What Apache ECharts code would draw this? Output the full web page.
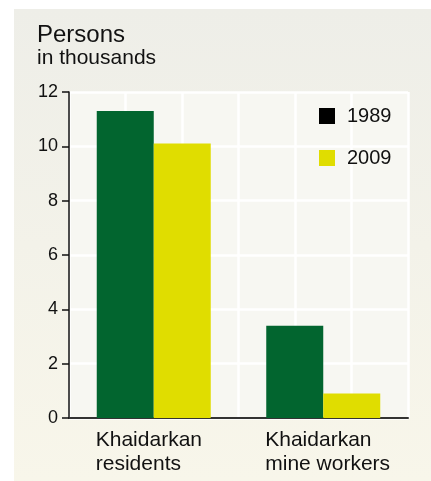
<!DOCTYPE html>
<html>
<head>
<meta charset="utf-8">
<script src="https://cdn.jsdelivr.net/npm/echarts@6/dist/echarts.min.js"></script>
<style>
  html, body { margin: 0; padding: 0; background: #fff; }
  #chart { width: 431px; height: 481px; }
</style>
</head>
<body>
<div id="chart"></div>
<script>
var categories = ['Khaidarkan\nresidents', 'Khaidarkan\nmine workers'];
var years = ['1989', '2009'];
var values1989 = [11.3, 3.4];
var values2009 = [10.1, 0.9];
var yTicks = [0, 2, 4, 6, 8, 10, 12];

var font = 'Liberation Sans, Arial, sans-serif';

var chart = echarts.init(document.getElementById('chart'));
var option = {
  animation: false,
  textStyle: {fontFamily: font},
  graphic: [{
    type: 'rect',
    z: -10,
    silent: true,
    shape: {x: 14, y: 9, width: 417, height: 472},
    style: {
      fill: {
        type: 'linear', x: 0, y: 0, x2: 0, y2: 1,
        colorStops: [{offset: 0, color: '#eeeee8'}, {offset: 1, color: '#f8f6ea'}]
      }
    }
  }],
  title: [
    {text: 'Persons', left: 32, top: 18, textStyle: {fontSize: 24, fontWeight: 'normal', color: '#111', fontFamily: font, lineHeight: 24}},
    {text: 'in thousands', left: 32, top: 43, textStyle: {fontSize: 21, fontWeight: 'normal', color: '#111', fontFamily: font, lineHeight: 21}}
  ],
  legend: {
    orient: 'vertical',
    left: 314,
    top: 101,
    itemWidth: 16,
    itemHeight: 16,
    itemGap: 22,
    icon: 'rect',
    textStyle: {fontSize: 20, color: '#111', fontFamily: font, lineHeight: 16, padding: [0, 0, 0, 7]},
    data: [{name: years[0], itemStyle: {color: '#000'}}, {name: years[1]}]
  },
  grid: {
    left: 69, right: 23, top: 92, bottom: 63,
    show: true, borderWidth: 0,
    backgroundColor: '#f7f7f2'
  },
  xAxis: [{
    type: 'category',
    data: categories,
    axisLine: {lineStyle: {color: '#333', width: 2}},
    axisTick: {show: false},
    axisLabel: {
      margin: 10,
      interval: 0,
      formatter: function (v) {
        return v.split('\n').map(function (s) { return '{a|' + s + '}'; }).join('\n');
      },
      rich: {a: {width: 116, align: 'left', fontSize: 21, lineHeight: 24, color: '#111', fontFamily: font}}
    }
  }, {
    type: 'value',
    min: 0, max: 6, interval: 1,
    axisLine: {show: false},
    axisTick: {show: false},
    axisLabel: {show: false},
    splitLine: {show: true, lineStyle: {color: '#ffffff', width: 2.5}}
  }],
  yAxis: {
    type: 'value',
    min: yTicks[0],
    max: yTicks[yTicks.length - 1],
    interval: 2,
    axisLine: {show: true, lineStyle: {color: '#111', width: 1.5}},
    axisTick: {show: true, length: 7, lineStyle: {color: '#111', width: 1.5}},
    axisLabel: {fontSize: 18, color: '#111', margin: 11, fontFamily: font},
    splitLine: {show: true, lineStyle: {color: '#ffffff', width: 2.5}}
  },
  series: [{
    name: years[0],
    type: 'bar',
    data: values1989,
    barWidth: 57,
    barGap: '0%',
    itemStyle: {color: '#02652f'}
  }, {
    name: years[1],
    type: 'bar',
    data: values2009,
    barWidth: 57,
    itemStyle: {color: '#e0dd00'}
  }]
};
chart.setOption(option);
</script>
</body>
</html>
